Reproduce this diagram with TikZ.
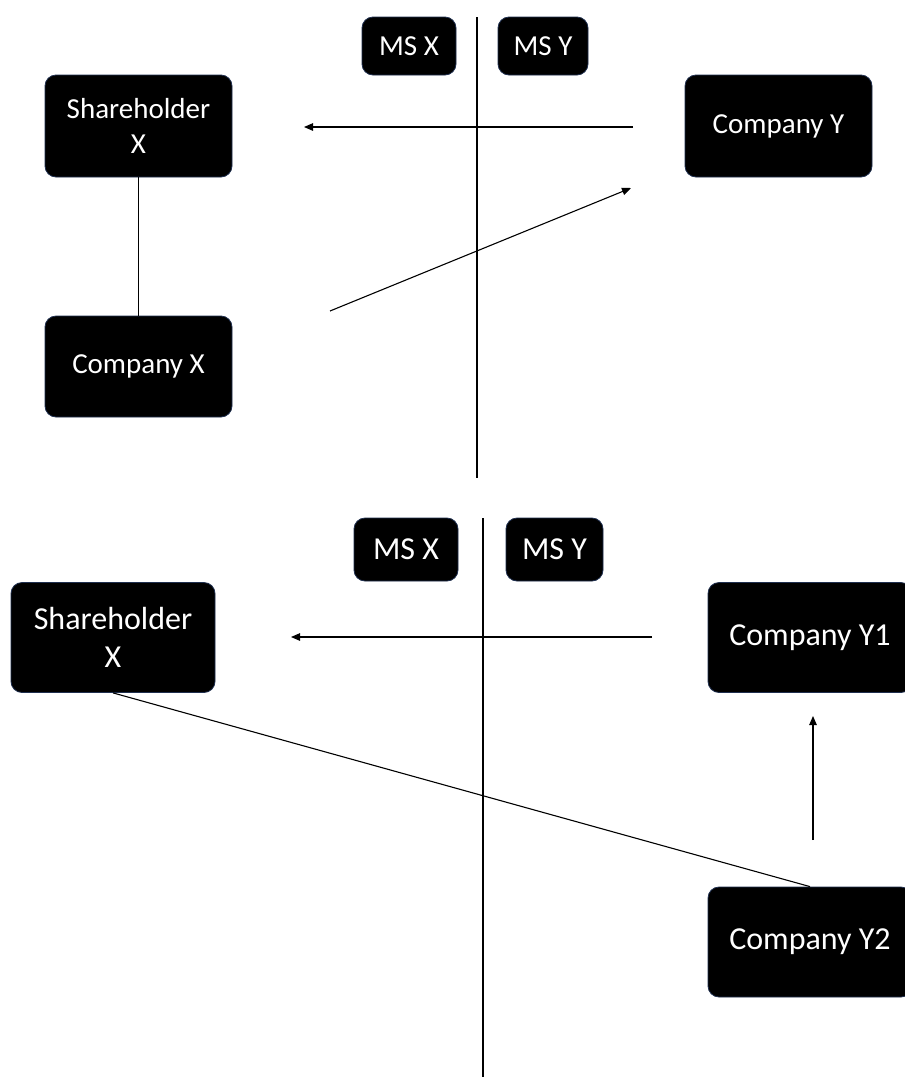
\documentclass[tikz,border=0pt]{standalone}
\usepackage{fontspec}
\setmainfont{Carlito}
\usetikzlibrary{arrows.meta}
\definecolor{boxedge}{HTML}{1F2F4F}
\tikzset{
  entity/.style={rectangle, rounded corners=11pt, fill=black, draw=boxedge,
    line width=0.8pt, text=white, align=center, inner sep=0pt},
  smalltext/.style={font=\fontsize{29}{35}\selectfont},
  bigtext/.style={font=\fontsize{32}{38}\selectfont},
  link/.style={line width=1.1pt, draw=black},
  flow/.style={link, -{Triangle[length=9pt,width=7.5pt]}},
}
\begin{document}
\begin{tikzpicture}[x=1pt,y=-1pt]
\useasboundingbox[fill=white] (0,0) rectangle (905,1077);

% ---------- upper structure ----------
\coordinate (divTa) at (477,17);
\coordinate (divTb) at (477,478);
\draw[link] (divTa) -- (divTb);

\node[entity, smalltext, minimum width=94pt, minimum height=58pt] (msxT) at (409,46) {MS X};
\node[entity, smalltext, minimum width=90pt, minimum height=58pt] (msyT) at (543,46) {MS Y};

\node[entity, smalltext, minimum width=187pt, minimum height=102pt] (shxT) at (138.5,126) {Shareholder\\X};
\node[entity, smalltext, minimum width=187pt, minimum height=101pt] (coxT) at (138.5,366.5) {Company X};
\node[entity, smalltext, minimum width=187pt, minimum height=102pt] (coyT) at (778.5,126) {Company Y};

\draw[link] (shxT.south) -- (coxT.north);

\coordinate (divT1s) at (633,127);
\coordinate (divT1e) at (304,127);
\draw[flow] (divT1s) -- (divT1e);

\coordinate (divT2s) at (330,311);
\coordinate (divT2e) at (631,188);
\draw[flow] (divT2s) -- (divT2e);

% ---------- lower structure ----------
\coordinate (divBa) at (483,518);
\coordinate (divBb) at (483,1077);
\draw[link] (divBa) -- (divBb);

\node[entity, bigtext, minimum width=104pt, minimum height=63pt] (msxB) at (406,549.5) {MS X};
\node[entity, bigtext, minimum width=97pt, minimum height=63pt] (msyB) at (554.5,549.5) {MS Y};

\node[entity, bigtext, minimum width=204pt, minimum height=110pt] (shxB) at (113,637.5) {Shareholder\\X};
\node[entity, bigtext, minimum width=204pt, minimum height=110pt] (coy1B) at (810,637.5) {Company Y1};
\node[entity, bigtext, minimum width=204pt, minimum height=110pt] (coy2B) at (810,942) {Company Y2};

\draw[link] (shxB.south) -- (coy2B.north);

\coordinate (divB1s) at (652,637);
\coordinate (divB1e) at (291,637);
\draw[flow] (divB1s) -- (divB1e);

\coordinate (divB2s) at (813,840);
\coordinate (divB2e) at (813,716);
\draw[flow] (divB2s) -- (divB2e);
\end{tikzpicture}
\end{document}
